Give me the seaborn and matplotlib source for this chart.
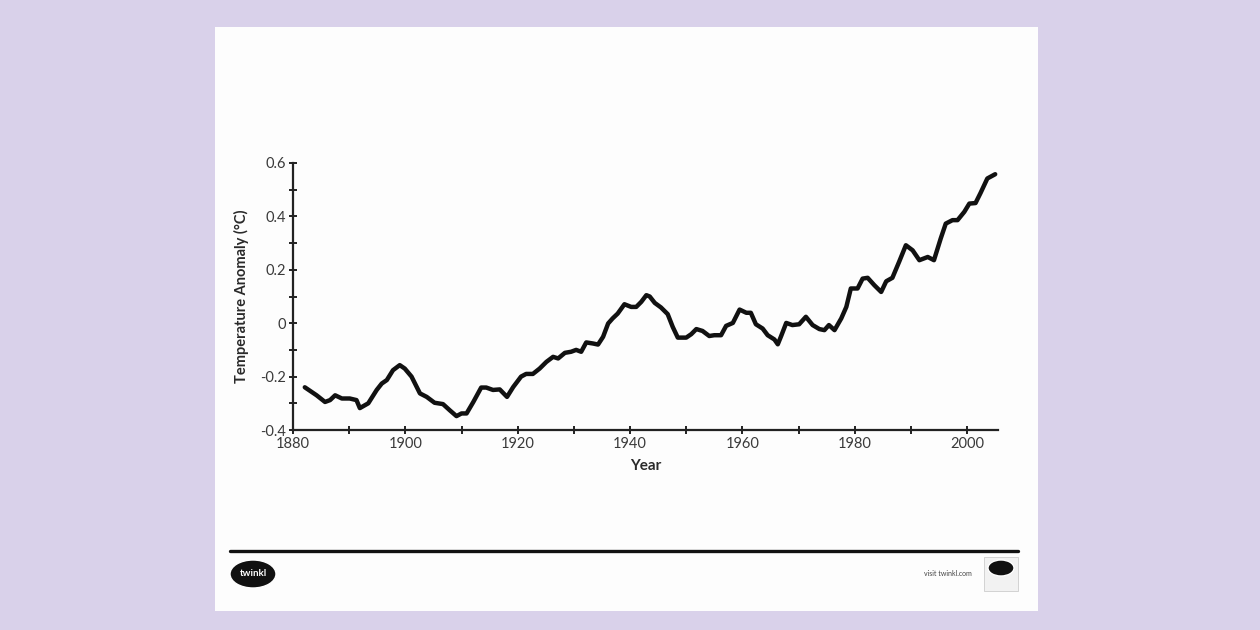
import numpy as np
import pandas as pd
import matplotlib.pyplot as plt
import seaborn as sns
from matplotlib.patches import Rectangle, Ellipse

# values
years = [1882.1, 1884.2, 1885.7, 1886.6, 1887.5, 1888.7, 1890.1, 1891.3, 1891.9, 1893.4,
         1894.9, 1895.8, 1896.7, 1897.8, 1899.0, 1899.9, 1901.1, 1902.6, 1903.8, 1905.2,
         1906.7, 1907.9, 1909.1, 1910.0, 1910.9, 1912.1, 1913.5, 1914.4, 1915.6, 1916.8,
         1918.1, 1919.2, 1920.6, 1921.5, 1922.7, 1923.9, 1925.1, 1926.3, 1927.2, 1928.4,
         1929.5, 1930.4, 1931.3, 1932.2, 1933.4, 1934.3, 1935.2, 1936.1, 1936.9, 1937.8,
         1939.0, 1940.2, 1941.1, 1942.0, 1942.9, 1943.5, 1944.4, 1945.5, 1946.7, 1947.6,
         1948.5, 1950.0, 1950.9, 1951.8, 1952.9, 1954.1, 1955.0, 1956.2, 1957.1, 1958.3,
         1959.5, 1960.7, 1961.5, 1962.4, 1963.6, 1964.5, 1965.7, 1966.3, 1966.9, 1967.8,
         1968.9, 1970.1, 1971.3, 1972.5, 1973.7, 1974.6, 1975.4, 1976.4, 1977.6, 1978.5,
         1979.3, 1980.5, 1981.4, 1982.3, 1983.5, 1984.7, 1985.6, 1986.7, 1987.9, 1989.1,
         1990.3, 1991.5, 1993.0, 1994.1, 1995.3, 1996.2, 1997.4, 1998.3, 1999.5, 2000.4,
         2001.5, 2002.4, 2003.6, 2005.0]
anomaly = [-0.24, -0.27, -0.295, -0.288, -0.27, -0.282, -0.282, -0.288, -0.318, -0.30,
           -0.25, -0.226, -0.213, -0.176, -0.157, -0.17, -0.20, -0.263, -0.276, -0.298,
           -0.303, -0.326, -0.348, -0.338, -0.338, -0.295, -0.241, -0.241, -0.25, -0.248,
           -0.276, -0.239, -0.20, -0.19, -0.19, -0.17, -0.145, -0.126, -0.132, -0.111,
           -0.107, -0.10, -0.107, -0.072, -0.076, -0.08, -0.051, -0.001, 0.018, 0.036,
           0.071, 0.061, 0.061, 0.08, 0.105, 0.10, 0.076, 0.059, 0.034, -0.014,
           -0.054, -0.054, -0.041, -0.022, -0.029, -0.048, -0.045, -0.045, -0.01, 0.001,
           0.051, 0.039, 0.039, -0.004, -0.02, -0.045, -0.061, -0.079, -0.048, 0.001,
           -0.007, -0.004, 0.024, -0.007, -0.022, -0.026, -0.007, -0.026, 0.018, 0.061,
           0.13, 0.13, 0.167, 0.17, 0.142, 0.117, 0.157, 0.17, 0.23, 0.292,
           0.273, 0.236, 0.248, 0.236, 0.317, 0.373, 0.386, 0.386, 0.417, 0.448,
           0.45, 0.488, 0.542, 0.558]

x_major = [1880, 1900, 1920, 1940, 1960, 1980, 2000]
y_major = [-0.4, -0.2, 0, 0.2, 0.4, 0.6]
y_labels = ['-0.4', '-0.2', '0', '0.2', '0.4', '0.6']

df = pd.DataFrame({'Year': years, 'Anomaly': anomaly})

sns.set_style('white')
plt.rcParams['font.family'] = ['Lato', 'DejaVu Sans']

fig = plt.figure(figsize=(12.6, 6.3), dpi=100)
fig.patch.set_facecolor('#d9d1ea')

# white worksheet page, kept behind everything
fig.patches.append(Rectangle((215 / 1260, 1 - 611 / 630), 823 / 1260, 584 / 630,
                             transform=fig.transFigure, facecolor='#fdfdfd',
                             edgecolor='none', zorder=-10))

ax = fig.add_axes([293 / 1260, 1 - 430 / 630, 705 / 1260, 267 / 630])
ax.set_zorder(5)
ax.patch.set_alpha(0)

sns.lineplot(data=df, x='Year', y='Anomaly', color='#111111', linewidth=3.2, ax=ax)

ax.set_xlim(1880, 2005.5)
ax.set_ylim(-0.4, 0.6)
ax.set_xticks(x_major)
ax.set_xticks(np.arange(1890, 2005, 20), minor=True)
ax.set_yticks(y_major)
ax.set_yticklabels(y_labels)
ax.set_yticks(np.arange(-0.3, 0.6, 0.2), minor=True)
ax.tick_params(which='both', bottom=True, left=True, direction='inout', length=6,
               width=1.4, color='#222222', labelsize=10.5, labelcolor='#3a3a3a', pad=2)
for s in ['top', 'right']:
    ax.spines[s].set_visible(False)
for s in ['left', 'bottom']:
    ax.spines[s].set_linewidth(1.6)
    ax.spines[s].set_color('#222222')

ax.set_xlabel('Year', fontsize=11, fontweight='bold', color='#2a2a2a', labelpad=6)
ax.set_ylabel('Temperature Anomaly (°C)', fontsize=10.5, fontweight='bold',
              color='#2a2a2a', labelpad=8)

# footer
fig.add_artist(plt.Line2D([230 / 1260, 1018 / 1260], [1 - 551 / 630, 1 - 551 / 630],
                          transform=fig.transFigure, color='#111111', linewidth=2.4))
fig.patches.append(Ellipse((253 / 1260, 1 - 574 / 630), 46 / 1260, 28 / 630,
                           transform=fig.transFigure, facecolor='#111111', zorder=2))
fig.text(253 / 1260, 1 - 574 / 630, 'twinkl', color='white', fontsize=7, fontweight='bold',
         ha='center', va='center', zorder=3)
fig.text(972 / 1260, 1 - 573 / 630, 'visit twinkl.com', color='#444444', fontsize=5,
         ha='right', va='center')
fig.patches.append(Rectangle((984 / 1260, 1 - 591 / 630), 34 / 1260, 34 / 630,
                             transform=fig.transFigure, facecolor='#f2f2f2',
                             edgecolor='#cccccc', linewidth=0.6, zorder=1))
fig.patches.append(Ellipse((1001 / 1260, 1 - 568 / 630), 26 / 1260, 16 / 630,
                           transform=fig.transFigure, facecolor='#111111', zorder=2))

fig.savefig('out.png', dpi=100, facecolor=fig.get_facecolor())
